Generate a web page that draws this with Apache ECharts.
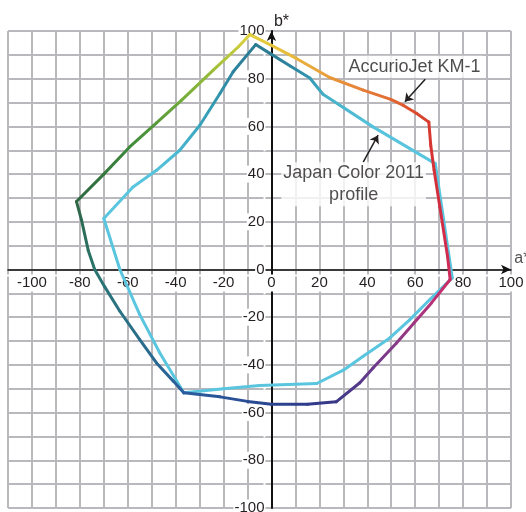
<!DOCTYPE html>
<html><head><meta charset="utf-8">
<script src="https://cdn.jsdelivr.net/npm/echarts@6/dist/echarts.min.js"></script>
<style>html,body{margin:0;padding:0;background:#fff}#c{width:526px;height:512px}</style>
</head><body><div id="c"></div>
<script>
// AccurioJet KM-1 gamut (a*, b*) — closed polygon
const kmA = [-9, 0, 10.4, 24.3, 38.3, 49.8, 55.1, 60.5, 65.7, 66.5, 67.9, 70.3, 73.5, 74.6, 66.8, 59.5, 52.2, 42.4, 36.9, 27, 15, 0, -10, -21.5, -36.6, -41, -48, -55, -63.3, -69.6, -73.8, -76.5, -79.3, -81.4, -70, -59.2, -48, -37.5, -24.3, -13.9, -9];
const kmB = [98.5, 94, 88.5, 80.5, 75.2, 71.3, 68.8, 65.5, 61.8, 52, 41.6, 26.2, 5.6, -4.2, -14, -22.4, -30.8, -41.3, -47.5, -55.5, -56.5, -56.5, -55.3, -53.4, -51.7, -46.8, -39.2, -29.4, -17.5, -7.3, 0, 8, 20.7, 28.5, 40, 51.4, 61.5, 71, 83.6, 93.3, 98.5];
// Japan Color 2011 profile gamut (a*, b*) — closed polygon
const jcA = [-6.6, 0, 8, 16, 21.5, 42.4, 68.4, 72, 75.5, 66.1, 57.8, 49.4, 38.3, 30, 18.9, -5, -20, -36.6, -46.6, -55, -63.3, -70, -57.8, -48, -38.3, -29.9, -21.5, -16, -6.6];
const jcB = [94.3, 90.2, 85.2, 80.3, 73.5, 59.8, 44.4, 20, -3.5, -12.6, -21, -28.7, -36.4, -42.2, -47.8, -48.6, -50, -51.7, -35, -18.9, 0, 21.4, 34.6, 41.6, 50, 60.5, 73.8, 82.9, 94.3];
// annotations
const annoText = ['AccurioJet KM-1', 'Japan Color 2011\nprofile'];
const annoA = [59.7, 34.3];
const annoB = [85.0, 35.7];
const arrowFromA = [64.2, 38.3], arrowFromB = [79.8, 45];
const arrowToA = [55.7, 44.5], arrowToB = [70.3, 56.3];
// axis title a* (placed in data space just past the arrow)
const aTitle = 'a*', aTitleA = 101.4, aTitleB = 4.4;
// axes
const xMin = -110, xMax = 100, yMin = -100, yMax = 100, step = 10;

// styles (vertex colours)
const kmColors = ['#e2d03c','#e6c63c','#e8b43c','#e89a3a','#e67e36','#e26a32','#de5a30','#da4a2e','#d63c2e','#d63634','#d43238','#d22e42','#d02c50','#cc2c62','#b8327a','#a03680','#883a86','#6c3a8a','#583a8a','#3c3888','#2e3c8c','#2a4490','#2a4c94','#2a5498','#2a5c9e','#2a6298','#2a6892','#2a6e8c','#2a7284','#2a7478','#2a746c','#2b7062','#2d6a52','#2f6644','#36783e','#3e8a3c','#569a3a','#70aa3a','#9cbe3a','#c8ca3a','#e2d03c'];
const jcColors = ['#2b7a90','#2c7e94','#2d84a0','#3496b0','#44aec6','#56c2dc','#5ac5de','#5ac5de','#5ac5de','#5ac5de','#5ac5de','#5ac5de','#5ac5de','#5ac5de','#5ac5de','#5ac5de','#5ac5de','#5ac5de','#5ac5de','#5ac5de','#5ac5de','#5ac5de','#5ac5de','#55c2dc','#48b6ce','#3aa4bc','#3094ab','#2d84a0','#2b7a90'];

const FONT = '"Liberation Sans", Arial, sans-serif';
const W = 526, H = 512;
const G = { left: 8, right: 15, top: 31, bottom: 4 };
const gw = W - G.left - G.right, gh = H - G.top - G.bottom;
// shift the axes onto the zero lines (pixel offset derived from the axis ranges)
const xAxisOffset = -gh * (0 - yMin) / (yMax - yMin);
const yAxisOffset = -gw * (0 - xMin) / (xMax - xMin);

function segSeries(A, B, C, z) {
  const out = [];
  for (let i = 0; i < A.length - 1; i++) {
    const x = A[i] < A[i+1] ? 0 : 1, y = B[i] > B[i+1] ? 0 : 1;
    out.push({
      type: 'line', silent: true, z: z, showSymbol: false, symbol: 'none', animation: false,
      data: [[A[i], B[i]], [A[i+1], B[i+1]]],
      lineStyle: { width: 3, cap: 'round', join: 'round',
        color: new echarts.graphic.LinearGradient(x, y, 1 - x, 1 - y, [{offset: 0, color: C[i]}, {offset: 1, color: C[i+1]}]) }
    });
  }
  return out;
}

const series = [].concat(segSeries(jcA, jcB, jcColors, 3), segSeries(kmA, kmB, kmColors, 4));
series.push({
  type: 'lines', coordinateSystem: 'cartesian2d', z: 6, silent: true, animation: false,
  symbol: ['none', 'arrow'], symbolSize: 8,
  lineStyle: { color: '#231f20', width: 1.5, opacity: 1 },
  data: arrowFromA.map((v, i) => ({ coords: [[v, arrowFromB[i]], [arrowToA[i], arrowToB[i]]] }))
});
series.push({
  type: 'scatter', z: 7, silent: true, animation: false, symbolSize: 1,
  itemStyle: { color: 'rgba(0,0,0,0)' },
  data: annoA.map((v, i) => ({ value: [v, annoB[i]], name: annoText[i] })),
  label: { show: true, position: 'inside', formatter: p => p.name, fontFamily: FONT, fontSize: 18,
    lineHeight: 22, color: '#231f20', align: 'center', backgroundColor: '#fff', padding: [0, 2] }
});
series.push({
  type: 'scatter', z: 7, silent: true, animation: false, symbolSize: 1, clip: false,
  itemStyle: { color: 'rgba(0,0,0,0)' },
  data: [{ value: [aTitleA, aTitleB], name: aTitle }],
  label: { show: true, position: 'inside', formatter: p => p.name, fontFamily: FONT, fontSize: 16,
    color: '#231f20', align: 'left', verticalAlign: 'middle' }
});

const chart = echarts.init(document.getElementById('c'), null, { renderer: 'canvas' });
chart.setOption({
  animation: false,
  backgroundColor: '#fff',
  grid: { left: G.left, right: G.right, top: G.top, bottom: G.bottom, containLabel: false, outerBoundsMode: 'none' },
  xAxis: {
    type: 'value', min: xMin, max: xMax, interval: step, position: 'bottom', offset: xAxisOffset,
    axisLine: { onZero: false, symbol: ['none', 'arrow'], symbolSize: [7, 10], lineStyle: { color: '#111', width: 1.5 } },
    axisTick: { show: false },
    axisLabel: { formatter: v => (v % 20 === 0 ? String(v) : ''), fontFamily: FONT, fontSize: 15, color: '#231f20',
      margin: 5, backgroundColor: '#fff', padding: [1, 2] },
    splitLine: { show: true, lineStyle: { color: '#b9b9bd', width: 2 } }
  },
  yAxis: {
    type: 'value', min: yMin, max: yMax, interval: step, position: 'left', offset: yAxisOffset,
    name: 'b*', nameLocation: 'end', nameGap: 1,
    nameTextStyle: { fontFamily: FONT, fontSize: 16, color: '#231f20', padding: [0, 0, 0, 20] },
    axisLine: { onZero: false, symbol: ['none', 'arrow'], symbolSize: [7, 10], lineStyle: { color: '#111', width: 2 } },
    axisTick: { show: false },
    axisLabel: { formatter: v => (v % 20 === 0 ? String(v) : ''), fontFamily: FONT, fontSize: 15, color: '#231f20',
      margin: 6, backgroundColor: '#fff', padding: [1, 1] },
    splitLine: { show: true, lineStyle: { color: '#b9b9bd', width: 2 } }
  },
  series: series
});
</script></body></html>
